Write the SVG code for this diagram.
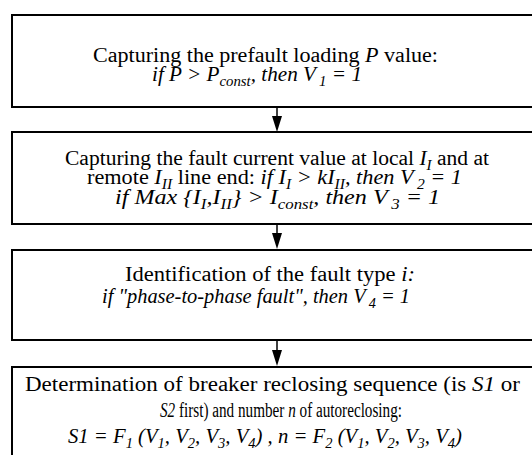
<svg xmlns="http://www.w3.org/2000/svg" width="532" height="455" viewBox="0 0 532 455">
<defs>
<style>
.box{fill:#fff;stroke:#000;stroke-width:2}
text{font-family:"Liberation Serif","Times New Roman",serif;font-size:20px;fill:#000}
.i{font-style:italic}
.s{font-size:14px}
.c{stroke:#000;stroke-width:1.5;fill:none}
</style>
</defs>
<rect width="532" height="455" fill="#fff"/>
<g id="connectors">
<line class="c" x1="277" y1="107" x2="277" y2="117"/>
<path d="M272,116 L282,116 L277,132 Z"/>
<line class="c" x1="277" y1="224" x2="277" y2="234"/>
<path d="M272,233 L282,233 L277,249 Z"/>
<line class="c" x1="277" y1="340" x2="277" y2="351"/>
<path d="M272,350 L282,350 L277,366 Z"/>
</g>
<g id="node1">
<rect class="box" x="12" y="15" width="532" height="92"/>
<text x="93" y="62" textLength="345" lengthAdjust="spacingAndGlyphs">Capturing the prefault loading  <tspan class="i">P</tspan> value:</text>
<text x="152" y="81" class="i" textLength="210" lengthAdjust="spacingAndGlyphs">if P &gt; P<tspan class="s" dy="5">const</tspan><tspan dy="-5">, then V</tspan><tspan class="s" dx="3" dy="5">1</tspan><tspan dy="-5"> = 1</tspan></text>
</g>
<g id="node2">
<rect class="box" x="12" y="132" width="532" height="92"/>
<text x="65" y="165" textLength="424" lengthAdjust="spacingAndGlyphs">Capturing the fault current value at local  <tspan class="i">I</tspan><tspan class="i s" dy="5">I</tspan><tspan dy="-5"> and at</tspan></text>
<text x="87" y="184" textLength="375" lengthAdjust="spacingAndGlyphs">remote <tspan class="i">I</tspan><tspan class="i s" dy="5">II</tspan><tspan dy="-5"> line end: </tspan><tspan class="i">if I</tspan><tspan class="i s" dy="5">I</tspan><tspan class="i" dy="-5"> &gt; kI</tspan><tspan class="i s" dy="5">II</tspan><tspan class="i" dy="-5">, then V</tspan><tspan class="i s" dx="3" dy="5">2</tspan><tspan class="i" dy="-5"> = 1</tspan></text>
<text x="115" y="204" class="i" textLength="325" lengthAdjust="spacingAndGlyphs">if  Max {I<tspan class="s" dy="5">I</tspan><tspan dy="-5">,I</tspan><tspan class="s" dy="5">II</tspan><tspan dy="-5">} &gt; I</tspan><tspan class="s" dy="5">const</tspan><tspan dy="-5">, then V</tspan><tspan class="s" dx="3" dy="5">3</tspan><tspan dy="-5"> = 1</tspan></text>
</g>
<g id="node3">
<rect class="box" x="12" y="250" width="532" height="90"/>
<text x="125" y="281" textLength="290" lengthAdjust="spacingAndGlyphs">Identification of the fault type <tspan class="i">i:</tspan></text>
<text x="102" y="303" class="i" textLength="308" lengthAdjust="spacingAndGlyphs">if "phase-to-phase fault", then V<tspan class="s" dx="3" dy="5">4</tspan><tspan dy="-5"> = 1</tspan></text>
</g>
<g id="node4">
<rect class="box" x="12" y="367" width="532" height="100"/>
<text x="25" y="391" textLength="495" lengthAdjust="spacingAndGlyphs">Determination of breaker reclosing sequence (is  <tspan class="i">S1</tspan> or</text>
<text x="160" y="417" textLength="242" lengthAdjust="spacingAndGlyphs"><tspan class="i">S2</tspan> first) and number  <tspan class="i">n</tspan> of autoreclosing:</text>
<text x="68" y="443" class="i" textLength="394" lengthAdjust="spacingAndGlyphs">S1 = F<tspan class="s" dy="5">1</tspan><tspan dy="-5"> (V</tspan><tspan class="s" dy="5">1</tspan><tspan dy="-5">, V</tspan><tspan class="s" dy="5">2</tspan><tspan dy="-5">, V</tspan><tspan class="s" dy="5">3</tspan><tspan dy="-5">, V</tspan><tspan class="s" dy="5">4</tspan><tspan dy="-5">) , n = F</tspan><tspan class="s" dy="5">2</tspan><tspan dy="-5"> (V</tspan><tspan class="s" dy="5">1</tspan><tspan dy="-5">, V</tspan><tspan class="s" dy="5">2</tspan><tspan dy="-5">, V</tspan><tspan class="s" dy="5">3</tspan><tspan dy="-5">, V</tspan><tspan class="s" dy="5">4</tspan><tspan dy="-5">)</tspan></text>
</g>
</svg>
